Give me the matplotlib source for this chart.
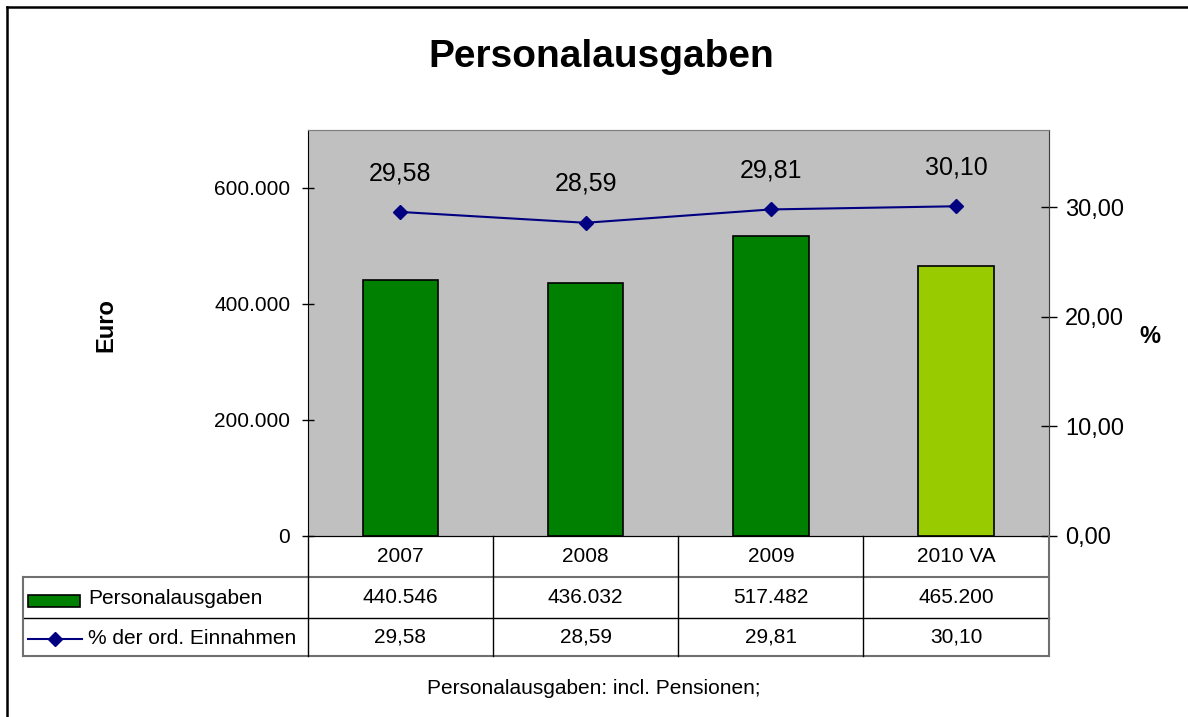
import matplotlib
matplotlib.use('Agg')
import matplotlib.pyplot as plt
from matplotlib.lines import Line2D
from matplotlib.patches import Rectangle
from matplotlib.ticker import FuncFormatter

plt.rcParams['font.family'] = ['Liberation Sans', 'DejaVu Sans']

years = ['2007', '2008', '2009', '2010 VA']
ausgaben = [440546, 436032, 517482, 465200]
prozent = [29.58, 28.59, 29.81, 30.10]
bar_colors = ['#008000', '#008000', '#008000', '#99CC00']

W, H = 1188, 717
fig = plt.figure(figsize=(W / 100, H / 100), dpi=100)


def fx(px):
    return px / W


def fy(py):
    return 1 - py / H


# plot area in pixels
x0, x1 = 307.7, 1048.7
y0, y1 = 129.7, 535.5
ax = fig.add_axes([fx(x0), fy(y1), fx(x1) - fx(x0), fy(y0) - fy(y1)])
ax.set_facecolor('#C0C0C0')
ax.bar(range(4), ausgaben, width=0.407, color=bar_colors, edgecolor='black', linewidth=1.2, zorder=2)
ax.set_xlim(-0.5, 3.5)
ax.set_ylim(0, 700000)
ax.set_yticks([0, 200000, 400000, 600000])
ax.yaxis.set_major_formatter(FuncFormatter(lambda v, p: f'{int(v):,}'.replace(',', '.')))
ax.set_xticks([])
ax.tick_params(axis='y', direction='inout', length=9, width=1, labelsize=15, pad=8)
for s in ['top', 'right']:
    ax.spines[s].set_color('#808080')
ax.spines['left'].set_color('black')
ax.spines['bottom'].set_color('black')

ax2 = ax.twinx()
ax2.plot(range(4), prozent, color='#000080', lw=1.5, marker='D', markersize=7.5, zorder=3)
ax2.set_ylim(0, 37.1)
ax2.set_yticks([0, 10, 20, 30])
ax2.yaxis.set_major_formatter(FuncFormatter(lambda v, p: f'{v:.2f}'.replace('.', ',')))
ax2.tick_params(axis='y', direction='inout', length=12, width=1, labelsize=17, pad=6)
ax2.spines['right'].set_color('#404040')
ax2.spines['top'].set_color('#808080')
ax2.spines['left'].set_visible(False)
for i, v in enumerate(prozent):
    ax2.annotate(f'{v:.2f}'.replace('.', ','), (i, v), xytext=(0, 28), textcoords='offset points',
                 ha='center', va='center', fontsize=18)

# titles
fig.text(fx(601), fy(57), 'Personalausgaben', ha='center', va='center', fontsize=28, fontweight='bold')
fig.text(fx(106), fy(325), 'Euro', ha='center', va='center', rotation=90, fontsize=17, fontweight='bold')
fig.text(fx(1150), fy(337), '%', ha='center', va='center', fontsize=17, fontweight='bold')
fig.text(fx(594), fy(688), 'Personalausgaben: incl. Pensionen;', ha='center', va='center', fontsize=15)

# data table below plot
cols = [x0 + i * (x1 - x0) / 4 for i in range(5)]
rows = [y1, 576.7, 618.3, 656.0]
tl = 22.7
gray = '#707070'


def hline(x_a, x_b, y, c, lw):
    fig.add_artist(Line2D([fx(x_a), fx(x_b)], [fy(y), fy(y)], color=c, lw=lw))


def vline(x, y_a, y_b, c, lw):
    fig.add_artist(Line2D([fx(x), fx(x)], [fy(y_a), fy(y_b)], color=c, lw=lw))


hline(tl, x1, rows[1], gray, 1.5)
hline(tl, x1, rows[2], 'black', 1.0)
hline(tl, x1, rows[3], gray, 1.5)
vline(tl, rows[1], rows[3], gray, 1.5)
vline(x1, y1, rows[3], gray, 1.5)
for c in cols[:-1]:
    vline(c, y1, rows[3], 'black', 1.0)

for i in range(4):
    cx = (cols[i] + cols[i + 1]) / 2
    fig.text(fx(cx), fy((rows[0] + rows[1]) / 2), years[i], ha='center', va='center', fontsize=15)
    fig.text(fx(cx), fy((rows[1] + rows[2]) / 2), f'{ausgaben[i]:,}'.replace(',', '.'),
             ha='center', va='center', fontsize=15)
    fig.text(fx(cx), fy((rows[2] + rows[3]) / 2), f'{prozent[i]:.2f}'.replace('.', ','),
             ha='center', va='center', fontsize=15)

# legend keys
fig.add_artist(Rectangle((fx(28), fy(607)), fx(80) - fx(28), fy(595) - fy(607),
                         facecolor='#008000', edgecolor='black', lw=1.2))
fig.text(fx(88), fy(599), 'Personalausgaben', ha='left', va='center', fontsize=15)
fig.add_artist(Line2D([fx(28), fx(82)], [fy(639), fy(639)], color='#000080', lw=1.5))
fig.add_artist(Line2D([fx(55)], [fy(639)], color='#000080', marker='D', markersize=7.5, lw=0))
fig.text(fx(88), fy(638), '% der ord. Einnahmen', ha='left', va='center', fontsize=15)

# outer frame
fig.add_artist(Line2D([fx(7), fx(7)], [fy(7), fy(H + 5)], color='black', lw=1.8))
fig.add_artist(Line2D([fx(7), fx(W + 5)], [fy(7), fy(7)], color='black', lw=1.8))

fig.savefig('out.png', dpi=100)
